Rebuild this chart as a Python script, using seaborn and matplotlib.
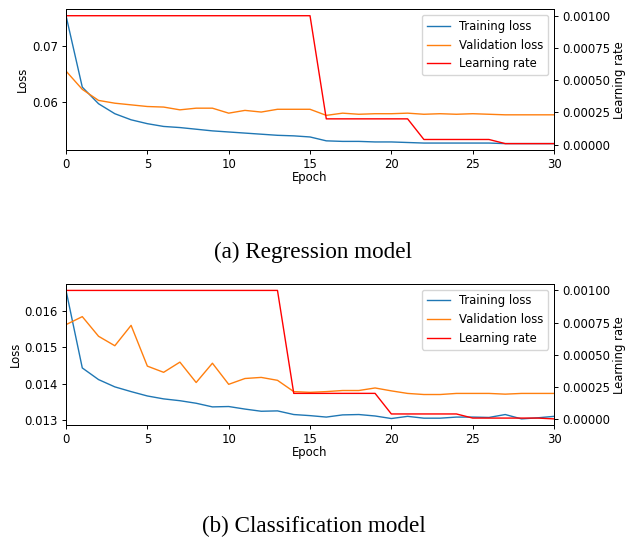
import numpy as np
import pandas as pd
import matplotlib.pyplot as plt
import seaborn as sns

epochs = list(range(31))

# regression model
reg_train = [0.0755, 0.0626, 0.0596, 0.0578, 0.0567, 0.0560, 0.0555, 0.0553, 0.0550, 0.0547,
             0.0545, 0.0543, 0.0541, 0.0539, 0.0538, 0.0536, 0.0529, 0.0528, 0.0528, 0.0527,
             0.0527, 0.0526, 0.0525, 0.0525, 0.0525, 0.0525, 0.0525, 0.0524, 0.0524, 0.0524, 0.0524]
reg_val = [0.0655, 0.0622, 0.0602, 0.0597, 0.0594, 0.0591, 0.0590, 0.0585, 0.0588, 0.0588,
           0.0579, 0.0584, 0.0581, 0.0586, 0.0586, 0.0586, 0.0575, 0.0579, 0.0577, 0.0578,
           0.0578, 0.0579, 0.0577, 0.0578, 0.0577, 0.0578, 0.0577, 0.0576, 0.0576, 0.0576, 0.0576]
reg_lr = [0.001] * 16 + [0.0002] * 6 + [0.00004] * 5 + [0.000008] * 4

# classification model
cls_train = [0.01656, 0.01443, 0.01411, 0.01391, 0.01378, 0.01366, 0.01358, 0.01353, 0.01346, 0.01336,
             0.01337, 0.01330, 0.01324, 0.01325, 0.01315, 0.01312, 0.01308, 0.01314, 0.01315, 0.01311,
             0.01304, 0.01310, 0.01305, 0.01305, 0.01308, 0.01308, 0.01307, 0.01315, 0.01303, 0.01306, 0.01310]
cls_val = [0.01562, 0.01584, 0.01530, 0.01504, 0.01560, 0.01448, 0.01431, 0.01459, 0.01403, 0.01456,
           0.01398, 0.01414, 0.01417, 0.01409, 0.01378, 0.01376, 0.01378, 0.01381, 0.01381, 0.01388,
           0.01380, 0.01373, 0.01370, 0.01370, 0.01373, 0.01373, 0.01373, 0.01371, 0.01373, 0.01373, 0.01373]
cls_lr = [0.001] * 14 + [0.0002] * 6 + [0.00004] * 5 + [0.000008] * 5 + [0.0000016]

# the figure looks like a default matplotlib figure scaled down by ~0.83
plt.rcParams.update({
    'font.size': 8.4,
    'axes.linewidth': 0.7,
    'axes.labelpad': 3.0,
    'xtick.major.size': 2.9, 'ytick.major.size': 2.9,
    'xtick.major.pad': 2.9, 'ytick.major.pad': 2.9,
    'xtick.major.width': 0.7, 'ytick.major.width': 0.7,
})

fig = plt.figure(figsize=(6.27, 5.39), dpi=100)
ax_top = fig.add_axes([0.1053, 0.7217, 0.7783, 0.2610])
ax_bot = fig.add_axes([0.1053, 0.2109, 0.7783, 0.2622])


def draw(ax, train, val, lr):
    df = pd.DataFrame({'epoch': epochs, 'train': train, 'val': val, 'lr': lr})
    sns.lineplot(df, x='epoch', y='train', ax=ax, color='C0', lw=1, label='Training loss', legend=False)
    sns.lineplot(df, x='epoch', y='val', ax=ax, color='C1', lw=1, label='Validation loss', legend=False)
    ax2 = ax.twinx()
    sns.lineplot(df, x='epoch', y='lr', ax=ax2, color='red', lw=1, label='Learning rate', legend=False)
    ax.set_xlim(0, 30)
    ax.set_xlabel('Epoch', labelpad=0)
    ax.set_ylabel('Loss', labelpad=2)
    ax2.set_ylabel('Learning rate', labelpad=2)
    ax2.set_yticks([0, 0.00025, 0.0005, 0.00075, 0.001])
    ax2.set_yticklabels(['0.00000', '0.00025', '0.00050', '0.00075', '0.00100'])
    h1, l1 = ax.get_legend_handles_labels()
    h2, l2 = ax2.get_legend_handles_labels()
    ax2.legend(h1 + h2, l1 + l2, loc='upper right')
    return ax2


draw(ax_top, reg_train, reg_val, reg_lr)
ax_top.set_yticks([0.06, 0.07])
ax_top.set_yticklabels(['0.06', '0.07'])
draw(ax_bot, cls_train, cls_val, cls_lr)
ax_bot.set_yticks([0.013, 0.014, 0.015, 0.016])
ax_bot.set_yticklabels(['0.013', '0.014', '0.015', '0.016'])

fig.text(0.5, 0.5325, '(a) Regression model', ha='center', va='center',
         family='Liberation Serif', fontsize=16.7)
fig.text(0.5, 0.024, '(b) Classification model', ha='center', va='center',
         family='Liberation Serif', fontsize=16.7)

fig.savefig('out.png', dpi=100)
